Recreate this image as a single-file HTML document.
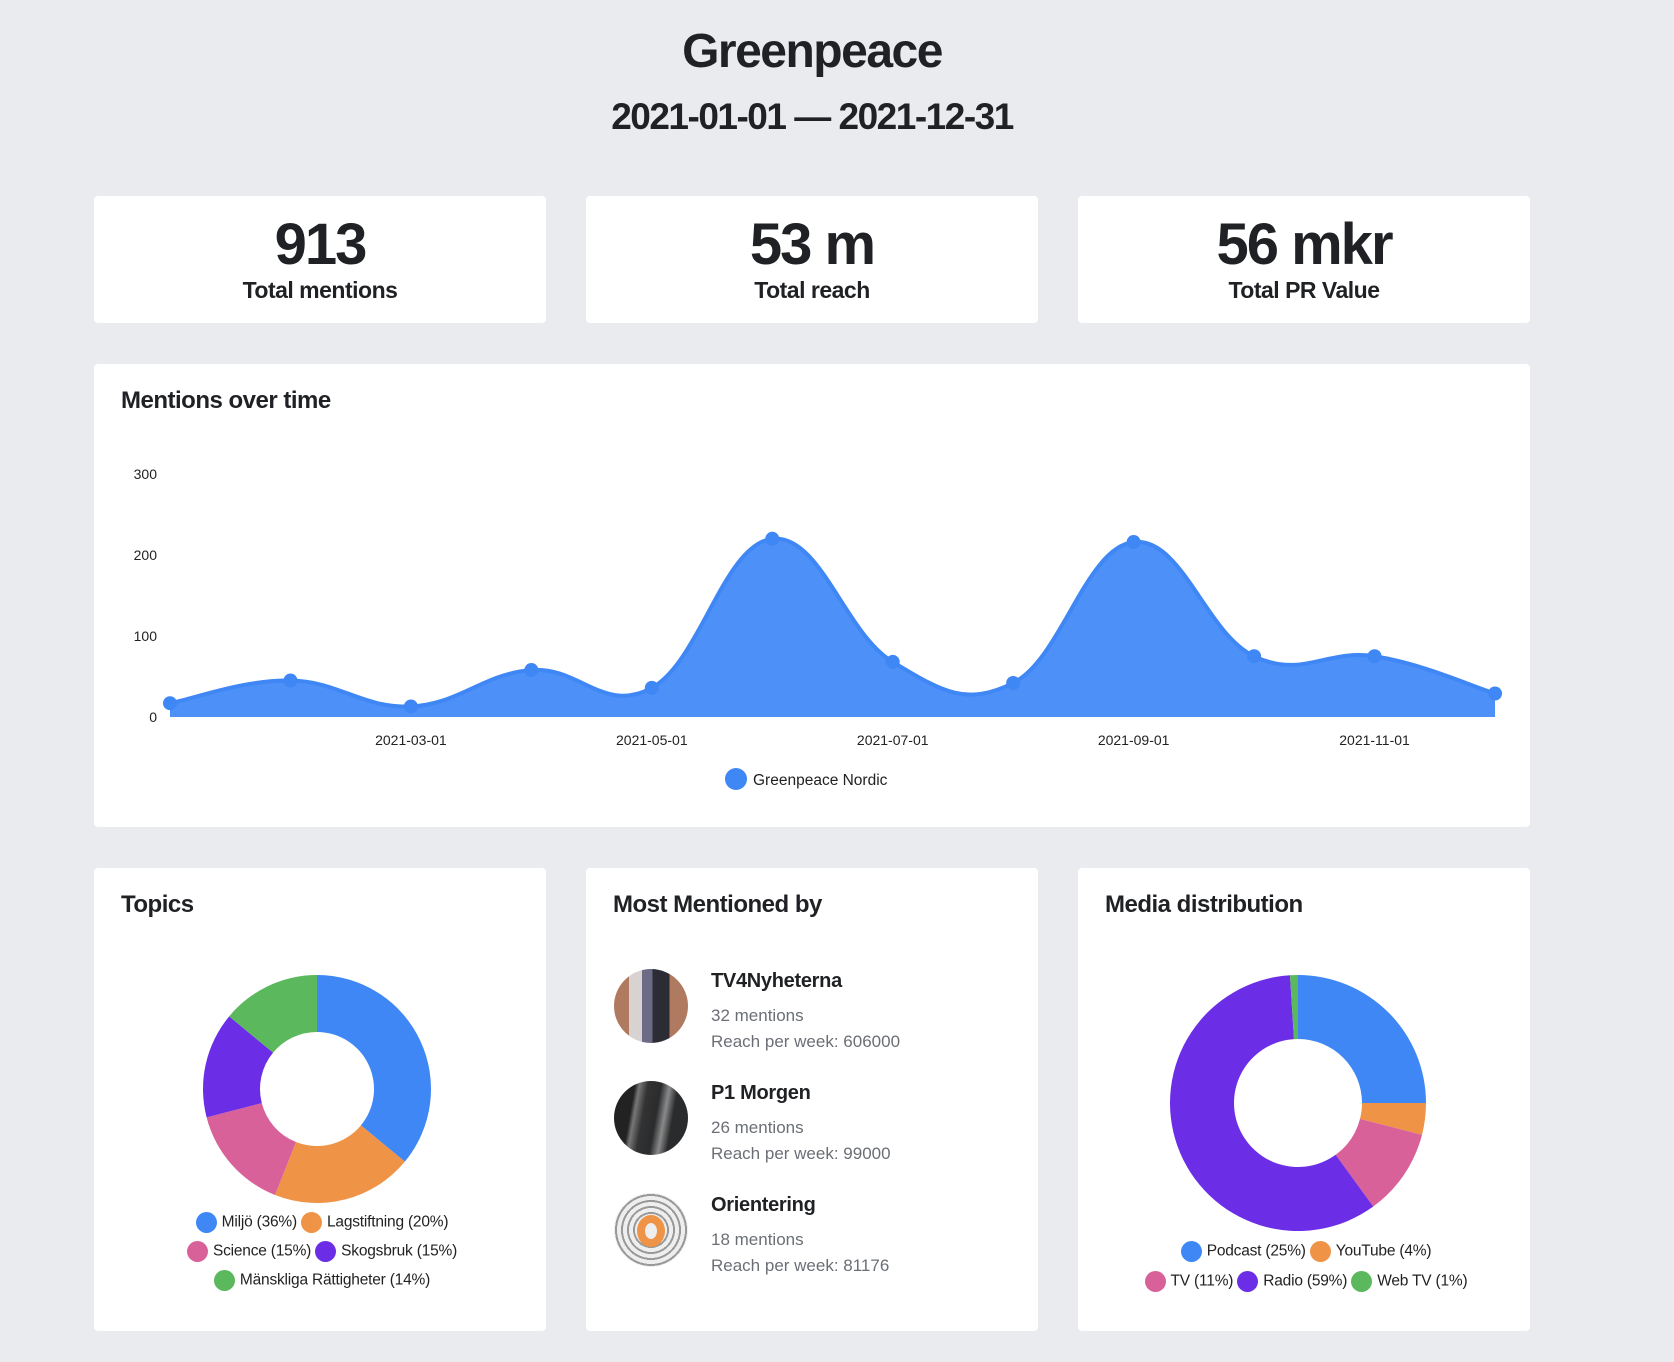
<!DOCTYPE html>
<html><head><meta charset="utf-8">
<style>
*{box-sizing:border-box;margin:0;padding:0}
body{width:1674px;height:1362px;background:#e9ebef;font-family:"Liberation Sans",sans-serif;color:#1f2124;position:relative;overflow:hidden}
.card{position:absolute;background:#fff;border-radius:4px}
.h1{position:absolute;left:0;width:1624px;text-align:center;font-weight:bold}
.num{position:absolute;left:0;right:0;text-align:center;font-weight:bold;font-size:58px;top:15px;letter-spacing:-2px}
.lab{position:absolute;left:0;right:0;text-align:center;font-weight:bold;font-size:23px;top:81px;letter-spacing:-0.5px}
.ttl{position:absolute;left:27px;top:23px;font-weight:bold;font-size:24px;letter-spacing:-0.5px}
.leg{position:absolute;left:0;right:0;text-align:center;font-size:15.5px;color:#222;letter-spacing:-0.2px}
.dot{display:inline-block;width:21px;height:21px;border-radius:50%;vertical-align:middle;margin:0 5px 0 4px}
.src{position:absolute;left:651px}
.av{position:absolute;left:-37px;width:74px;height:74px;border-radius:50%;overflow:hidden}
.nm{position:absolute;left:60px;font-weight:bold;font-size:20px;white-space:nowrap;letter-spacing:-0.3px}
.sub{position:absolute;left:60px;font-size:17px;color:#6b6f75;white-space:nowrap}
</style></head><body>
<div class="h1" style="top:24px;font-size:48px;letter-spacing:-1.5px">Greenpeace</div>
<div class="h1" style="top:96px;font-size:37px;letter-spacing:-1.5px">2021-01-01 — 2021-12-31</div>

<div class="card" style="left:94px;top:196px;width:452px;height:127px"><div class="num">913</div><div class="lab">Total mentions</div></div>
<div class="card" style="left:586px;top:196px;width:452px;height:127px"><div class="num">53 m</div><div class="lab">Total reach</div></div>
<div class="card" style="left:1078px;top:196px;width:452px;height:127px"><div class="num">56 mkr</div><div class="lab">Total PR Value</div></div>

<div class="card" style="left:94px;top:364px;width:1436px;height:463px">
<div class="ttl">Mentions over time</div>
</div>
<svg id="line" style="position:absolute;left:0;top:0" width="1674" height="900"></svg>

<div class="card" style="left:94px;top:868px;width:452px;height:463px">
<div class="ttl">Topics</div>
<div class="leg" style="top:344px">
<div style="height:29px"><span class="dot" style="background:#3f87f5"></span>Miljö (36%)<span class="dot" style="background:#ef9346"></span>Lagstiftning (20%)</div>
<div style="height:29px"><span class="dot" style="background:#d9619a"></span>Science (15%)<span class="dot" style="background:#6b2ee6"></span>Skogsbruk (15%)</div>
<div><span class="dot" style="background:#5cb85c"></span>Mänskliga Rättigheter (14%)</div></div>
</div>
<div class="card" style="left:586px;top:868px;width:452px;height:463px">
<div class="ttl">Most Mentioned by</div>
</div>
<div class="card" style="left:1078px;top:868px;width:452px;height:463px">
<div class="ttl">Media distribution</div>
<div class="leg" style="top:373px">
<div style="height:30px"><span class="dot" style="background:#3f87f5"></span>Podcast (25%)<span class="dot" style="background:#ef9346"></span>YouTube (4%)</div>
<div><span class="dot" style="background:#d9619a"></span>TV (11%)<span class="dot" style="background:#6b2ee6"></span>Radio (59%)<span class="dot" style="background:#5cb85c"></span>Web TV (1%)</div></div>
</div>

<div class="src" style="top:1006px">
<div class="av" style="top:-37px;background:linear-gradient(90deg,#b07a60 0 20%,#d8d2d0 20% 38%,#6d6a86 38% 52%,#2c2c34 52% 75%,#b07a60 75%)"></div>
<div class="nm" style="top:-36px">TV4Nyheterna</div><div class="sub" style="top:0px">32 mentions</div><div class="sub" style="top:26px">Reach per week: 606000</div></div>
<div class="src" style="top:1118px">
<div class="av" style="top:-37px;background:linear-gradient(100deg,#222 0 25%,#777 30%,#333 40%,#2a2b2d 55%,#8a8a8a 65%,#2a2b2d 75%)"></div>
<div class="nm" style="top:-36px">P1 Morgen</div><div class="sub" style="top:0px">26 mentions</div><div class="sub" style="top:26px">Reach per week: 99000</div></div>
<div class="src" style="top:1230px">
<div class="av" style="top:-37px;background:repeating-radial-gradient(circle at 50% 50%,#eee 0 4px,#999 4px 6px);"><div style="position:absolute;left:23px;top:22px;width:28px;height:32px;border-radius:50%;border:8px solid #ef9346;background:#eee"></div></div>
<div class="nm" style="top:-36px">Orientering</div><div class="sub" style="top:0px">18 mentions</div><div class="sub" style="top:26px">Reach per week: 81176</div></div>

<svg id="topics" style="position:absolute;left:0;top:0" width="1674" height="1362"></svg>

<script>
const months=["2021-01-01","2021-02-01","2021-03-01","2021-04-01","2021-05-01","2021-06-01","2021-07-01","2021-08-01","2021-09-01","2021-10-01","2021-11-01","2021-12-01"];
const mentions=[17,45,13,58,36,220,68,42,216,75,75,29];
const yTicks=[0,100,200,300];
const xTickLabels=["2021-03-01","2021-05-01","2021-07-01","2021-09-01","2021-11-01"];
const topicLabels=["Miljö","Lagstiftning","Science","Skogsbruk","Mänskliga Rättigheter"];
const topicValues=[36,20,15,15,14];
const mediaLabels=["Podcast","YouTube","TV","Radio","Web TV"];
const mediaValues=[25,4,11,59,1];
const colors=["#3f87f5","#ef9346","#d9619a","#6b2ee6","#5cb85c"];
const NS="http://www.w3.org/2000/svg";
function mk(p,t,a){const e=document.createElementNS(NS,t);for(const k in a)e.setAttribute(k,a[k]);p.appendChild(e);return e;}
const x0=170,x1=1495,yb=717,yPer=0.81;
const X=i=>x0+i*(x1-x0)/(months.length-1);
const Y=v=>yb-v*yPer;
const svg=document.getElementById('line');
yTicks.forEach(t=>{const e=mk(svg,'text',{x:157,y:Y(t)+5,'text-anchor':'end','font-size':14,fill:'#222','font-family':'Liberation Sans'});e.textContent=t;

});
xTickLabels.forEach(l=>{const i=months.indexOf(l);const e=mk(svg,'text',{x:X(i),y:745,'text-anchor':'middle','font-size':14,fill:'#222','font-family':'Liberation Sans'});e.textContent=l;

});
const pts=mentions.map((v,i)=>[X(i),Y(v)]);
let d=`M${pts[0][0]},${pts[0][1]}`;
for(let i=0;i<pts.length-1;i++){const p0=pts[Math.max(i-1,0)],p1=pts[i],p2=pts[i+1],p3=pts[Math.min(i+2,pts.length-1)];const t=0.2;
d+=` C${p1[0]+(p2[0]-p0[0])*t},${p1[1]+(p2[1]-p0[1])*t} ${p2[0]-(p3[0]-p1[0])*t},${p2[1]-(p3[1]-p1[1])*t} ${p2[0]},${p2[1]}`;}
const area=mk(svg,'path',{d:d+` L${X(months.length-1)},${yb} L${x0},${yb} Z`,fill:'#4d90f7'});


const ln=mk(svg,'path',{d:d,fill:'none',stroke:'#3f87f5','stroke-width':4});


pts.forEach(p=>{const c=mk(svg,'circle',{cx:p[0],cy:p[1],r:7,fill:'#3f87f5'});

});
const ld=mk(svg,'circle',{cx:736,cy:779,r:11,fill:'#3f87f5'});


const lt=mk(svg,'text',{x:753,y:785,'font-size':15.5,fill:'#222','font-family':'Liberation Sans'});lt.textContent="Greenpeace Nordic";



const ds=document.getElementById('topics');
function donut(vals,cx,cy,R,r){const tot=vals.reduce((a,b)=>a+b,0);let a=-Math.PI/2;
vals.forEach((v,i)=>{const b=a+v/tot*2*Math.PI;const lg=(b-a)>Math.PI?1:0;
const P=(ang,rad)=>[cx+rad*Math.cos(ang),cy+rad*Math.sin(ang)];
const [ax,ay]=P(a,R),[bx,by]=P(b,R),[cx2,cy2]=P(b,r),[dx,dy]=P(a,r);
const s=mk(ds,'path',{d:`M${ax},${ay} A${R},${R} 0 ${lg} 1 ${bx},${by} L${cx2},${cy2} A${r},${r} 0 ${lg} 0 ${dx},${dy} Z`,fill:colors[i]});


a=b;});}
donut(topicValues,317,1089,114,57);
donut(mediaValues,1298,1103,128,64);
</script>
</body></html>
